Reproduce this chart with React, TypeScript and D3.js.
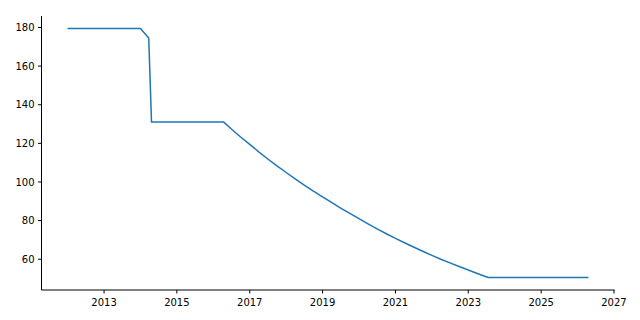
import React from "react";
import * as d3 from "d3";

const dates: string[] = [
  "2012-01-01", "2014-01-01", "2014-03-25", "2014-04-22", "2016-04-15",
  "2016-07-01", "2016-10-01", "2017-01-01", "2017-04-01", "2017-07-01",
  "2017-10-01", "2018-01-01", "2018-04-01", "2018-07-01", "2018-10-01",
  "2019-01-01", "2019-04-01", "2019-07-01", "2019-10-01", "2020-01-01",
  "2020-04-01", "2020-07-01", "2020-10-01", "2021-01-01", "2021-04-01",
  "2021-07-01", "2021-10-01", "2022-01-01", "2022-04-01", "2022-07-01",
  "2022-10-01", "2023-01-01", "2023-04-01", "2023-07-20", "2026-04-20",
];
const values: number[] = [
  179.5, 179.5, 174.5, 131, 131,
  127.4, 123.3, 119.5, 115.6, 111.9,
  108.3, 104.9, 101.6, 98.4, 95.3,
  92.3, 89.4, 86.5, 83.7, 81.0,
  78.3, 75.7, 73.2, 70.8, 68.5,
  66.3, 64.1, 62.0, 60.0, 58.1,
  56.2, 54.4, 52.6, 50.5, 50.5,
];
const xTickYears: number[] = [2013, 2015, 2017, 2019, 2021, 2023, 2025, 2027];
const yTicks: number[] = [60, 80, 100, 120, 140, 160, 180];

export default function App() {
  const W = 640, H = 320;
  const left = 41.5, right = 614.5, top = 16, bottom = 290;
  const parsed = dates.map((d) => new Date(d + "T00:00:00"));
  const data = parsed.map((d, i) => ({ d, v: values[i] }));
  const [x0, x1] = d3.extent(parsed) as [Date, Date];
  const span = x1.getTime() - x0.getTime();
  const x = d3.scaleTime()
    .domain([new Date(x0.getTime() - span * 0.05), new Date(x1.getTime() + span * 0.05)])
    .range([left, right]);
  const [v0, v1] = d3.extent(values) as [number, number];
  const vs = v1 - v0;
  const y = d3.scaleLinear().domain([v0 - vs * 0.05, v1 + vs * 0.05]).range([bottom, top]);
  const line = d3.line<{ d: Date; v: number }>().x((p) => x(p.d)).y((p) => y(p.v));
  const font = "DejaVu Sans, sans-serif";
  return (
    <svg width={W} height={H} style={{ position: "absolute", left: 0, top: 0, background: "#fff" }}>
      <path d={line(data) || ""} fill="none" stroke="#1f77b4" strokeWidth={1.5} strokeLinejoin="round" />
      <line x1={left} x2={left} y1={top} y2={bottom} stroke="#000" strokeWidth={1} />
      <line x1={left} x2={right} y1={bottom} y2={bottom} stroke="#000" strokeWidth={1} />
      {xTickYears.map((yr) => {
        const px = x(new Date(`${yr}-01-01T00:00:00`));
        return (
          <g key={yr}>
            <line x1={px} x2={px} y1={bottom} y2={bottom + 3.5} stroke="#000" strokeWidth={1} />
            <text x={px} y={306} textAnchor="middle" fontSize={10} fontFamily={font} fill="#000">{yr}</text>
          </g>
        );
      })}
      {yTicks.map((t) => {
        const py = y(t);
        return (
          <g key={t}>
            <line x1={left - 3.5} x2={left} y1={py} y2={py} stroke="#000" strokeWidth={1} />
            <text x={left - 7} y={py + 3.6} textAnchor="end" fontSize={10} fontFamily={font} fill="#000">{t}</text>
          </g>
        );
      })}
    </svg>
  );
}
